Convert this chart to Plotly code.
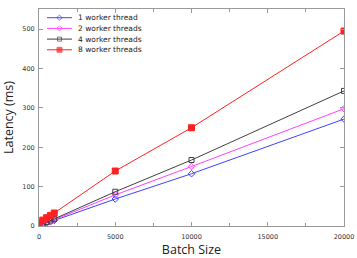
import plotly.graph_objects as go

batch = [1, 250, 500, 750, 1000, 5000, 10000, 20000]
lat_1 = [1, 4, 7, 10.5, 14, 68.5, 132.7, 271.5]
lat_2 = [1.5, 5, 8.5, 12, 16, 79, 151, 297.7]
lat_4 = [2, 6, 10, 14, 18, 87, 167.5, 343]
lat_8 = [8, 15, 21, 27, 33, 139.6, 249.5, 495]
names = ["1 worker thread", "2 worker threads", "4 worker threads", "8 worker threads"]

styles = [
    ("#4040ff", "diamond-open", 5),
    ("#ff40ff", "diamond-open", 5),
    ("#404040", "square-open", 5),
    ("#ff2020", "square", 6),
]
values = [lat_1, lat_2, lat_4, lat_8]

fig = go.Figure()
for name, vals, (col, sym, sz) in zip(names, values, styles):
    fig.add_trace(go.Scatter(
        x=batch, y=vals, name=name, mode="lines+markers", showlegend=False,
        line=dict(color=col, width=1),
        marker=dict(symbol=sym, size=sz, color=col, line=dict(color=col, width=1)),
    ))

# compact legend drawn on an invisible overlay axis measured in pixels from the plot's top-left
PLOT_W, PLOT_H = 305, 217
leg_x0, leg_x1, leg_text_x = 8, 33, 37
leg_y0, leg_dy = 8.7, 10.7
annotations = []
for i, (name, (col, sym, sz)) in enumerate(zip(names, styles)):
    yy = leg_y0 + i * leg_dy
    fig.add_trace(go.Scatter(
        x=[leg_x0, (leg_x0 + leg_x1) / 2, leg_x1], y=[yy, yy, yy],
        xaxis="x2", yaxis="y2", mode="lines+markers", showlegend=False, hoverinfo="skip",
        line=dict(color=col, width=1),
        marker=dict(symbol=sym, size=[0, sz - 1, 0], color=col, line=dict(color=col, width=1)),
    ))
    annotations.append(dict(
        x=leg_text_x, y=yy, xref="x2", yref="y2", text=name, showarrow=False,
        xanchor="left", yanchor="middle",
        font=dict(family="DejaVu Sans", size=7.5, color="#222222"),
    ))

axis_common = dict(
    showgrid=False, zeroline=False, showline=True, linecolor="#999999",
    linewidth=1, mirror="ticks", ticks="inside", ticklen=4, tickcolor="#999999",
    tickfont=dict(family="DejaVu Sans", size=6.5, color="#333333"), automargin=False,
)
title_font = dict(family="Open Sans", size=12.5, color="#222222")
fig.update_layout(
    width=357, height=258,
    margin=dict(l=39, r=13, t=9, b=32),
    plot_bgcolor="white", paper_bgcolor="white",
    xaxis=dict(range=[0, 20000], dtick=5000, tickformat="d", ticklabelstandoff=4,
               minor=dict(dtick=2500, ticks="inside", ticklen=3, tickcolor="#999999"),
               title=dict(text="Batch Size", font=title_font, standoff=13),
               **axis_common),
    yaxis=dict(range=[0, 551], dtick=100, ticklabelstandoff=2,
               title=dict(text="Latency (ms)", font=title_font, standoff=5),
               **axis_common),
    xaxis2=dict(overlaying="x", range=[0, PLOT_W], visible=False, fixedrange=True),
    yaxis2=dict(overlaying="y", range=[PLOT_H, 0], visible=False, fixedrange=True),
    annotations=annotations,
    showlegend=False,
)
# remove the page's default 8px body margin so the figure sits at the window's corner
fig.write_html("out.html", config={"displayModeBar": False},
               post_script="document.body.style.margin='0';")
